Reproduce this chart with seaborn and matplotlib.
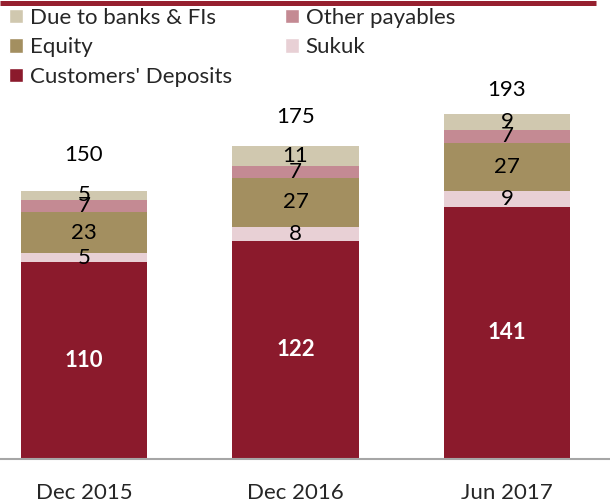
import numpy as np
import pandas as pd
import matplotlib
matplotlib.use('Agg')
import matplotlib.pyplot as plt
from matplotlib.patches import Patch
from matplotlib.lines import Line2D
import seaborn as sns

# Data
periods = ['Dec 2015', 'Dec 2016', 'Jun 2017']
deposits = [110, 122, 141]
sukuk = [5, 8, 9]
equity = [23, 27, 27]
other_payables = [7, 7, 7]
due_banks = [5, 11, 9]

series_names = ["Customers' Deposits", 'Sukuk', 'Equity', 'Other payables', 'Due to banks & FIs']
series_colors = ['#8B1A2C', '#E8D0D5', '#A38F60', '#C48A93', '#D0C8AF']

sns.set_style('white')
plt.rcParams['font.family'] = ['Lato', 'DejaVu Sans']
FS = 16

df = pd.DataFrame({
    "Customers' Deposits": deposits,
    'Sukuk': sukuk,
    'Equity': equity,
    'Other payables': other_payables,
    'Due to banks & FIs': due_banks,
}, index=periods)
cum = df.cumsum(axis=1)
totals = df.sum(axis=1)

fig = plt.figure(figsize=(6.1, 5.04), dpi=100)
px_per_unit = 1.788
ymax = 200
ax = fig.add_axes([0, 45 / 504, 1, ymax * px_per_unit / 504])

# stacked bars: draw cumulative totals from the top series down
for name, color in reversed(list(zip(series_names, series_colors))):
    sns.barplot(x=periods, y=cum[name].values, color=color, saturation=1,
                width=0.6, linewidth=0, ax=ax)

# segment labels
for name in series_names:
    for i, p in enumerate(periods):
        v = df.loc[p, name]
        y = cum.loc[p, name] - v / 2
        if name == "Customers' Deposits":
            ax.text(i, y, str(v), ha='center', va='center', color='white',
                    fontsize=FS, fontweight='bold')
        else:
            ax.text(i, y, str(v), ha='center', va='center', color='black',
                    fontsize=FS)

ax.set_xlim(-0.397, 2.487)
ax.set_ylim(0, ymax)
ax.set_yticks([])
ax.set_xlabel('')
ax.set_ylabel('')
for s in ['top', 'left', 'right']:
    ax.spines[s].set_visible(False)
ax.spines['bottom'].set_color('#A6A6A6')
ax.spines['bottom'].set_linewidth(1.5)
ax.set_xticks([0, 1, 2])
ax.set_xticklabels(periods, fontsize=FS)
ax.set_xticks([0.5, 1.5], minor=True)
ax.tick_params(axis='x', which='major', length=0, pad=17)
ax.tick_params(axis='x', which='minor', length=6, width=1.5, color='#A6A6A6', direction='out')

# totals sit on a secondary scale, like the original
ax2 = ax.twinx()
ax2.set_ylim(-50, 185.3)
ax2.axis('off')
for i, p in enumerate(periods):
    ax2.text(i, totals[p], str(totals[p]), ha='center', va='center',
             fontsize=FS, color='black')

# legend
handles = [Patch(facecolor=series_colors[4], label=series_names[4]),
           Patch(facecolor=series_colors[2], label=series_names[2]),
           Patch(facecolor=series_colors[0], label=series_names[0]),
           Patch(facecolor=series_colors[3], label=series_names[3]),
           Patch(facecolor=series_colors[1], label=series_names[1])]
fig.legend(handles=handles, loc='upper left', bbox_to_anchor=(9 / 610, 1 - 8 / 504),
           ncol=2, frameon=False, fontsize=FS, borderpad=0, borderaxespad=0,
           handlelength=0.63, handleheight=0.63, handletextpad=0.3,
           columnspacing=2.4, labelspacing=0.42)

# dark red rule at the very top
fig.add_artist(Line2D([0, 596 / 610], [1 - 2.5 / 504] * 2, color='#96202F',
                      lw=3.6, solid_capstyle='butt', transform=fig.transFigure))

fig.savefig('out.png', dpi=100)
